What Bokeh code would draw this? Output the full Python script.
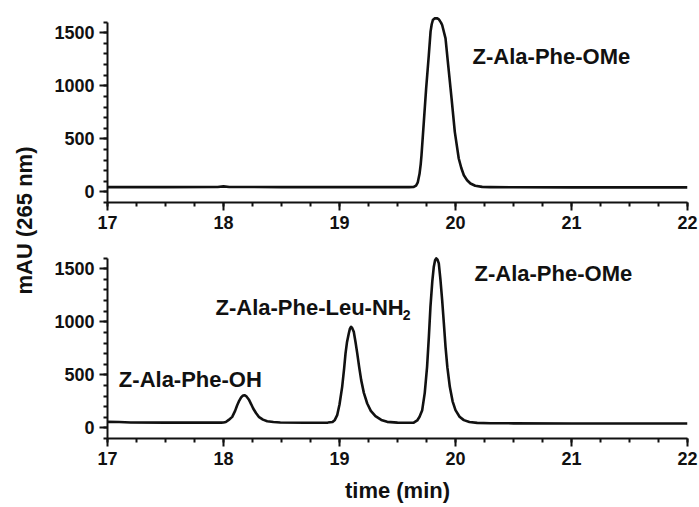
import math
from bokeh.plotting import figure
from bokeh.layouts import row, column
from bokeh.models import Range1d, FixedTicker
from bokeh.core.properties import value
from bokeh.embed import file_html
from bokeh.resources import INLINE

# ---- data ----
x_ticks = [17, 18, 19, 20, 21, 22]
y_ticks = [0, 500, 1000, 1500]

top_t = [17.0, 17.5, 17.95, 18.0, 18.05, 18.5, 19.0, 19.5, 19.6, 19.64, 19.66, 19.675,
         19.69, 19.70, 19.707, 19.727, 19.747, 19.77, 19.785, 19.795, 19.805, 19.82,
         19.84, 19.855, 19.865, 19.875, 19.885, 19.914, 19.937, 19.966, 19.994, 20.028,
         20.05, 20.072, 20.1, 20.129, 20.17, 20.23, 20.3, 20.5, 21.0, 21.5, 22.0]
top_v = [45, 45, 46, 52, 46, 45, 45, 45, 45, 47, 60, 90,
         170, 260, 346, 660, 975, 1290, 1510, 1580, 1620, 1635,
         1636, 1628, 1612, 1595, 1573, 1447, 1195, 881, 566, 315,
         225, 157, 110, 79, 58, 47, 45, 44, 43, 43, 43]

bot_t = [17.0, 17.1, 17.2, 17.5, 17.98, 18.0, 18.02, 18.045, 18.075, 18.1, 18.118, 18.135,
         18.152, 18.165, 18.181, 18.195, 18.218, 18.24, 18.256, 18.28, 18.304, 18.34,
         18.377, 18.43, 18.49, 18.7, 18.9, 18.94, 18.96, 18.98, 19.0, 19.023, 19.04,
         19.052, 19.065, 19.08, 19.09, 19.1, 19.11, 19.123, 19.138, 19.153, 19.17, 19.187,
         19.21, 19.239, 19.27, 19.31, 19.36, 19.411, 19.5, 19.6, 19.64, 19.67, 19.69,
         19.713, 19.735, 19.755, 19.77, 19.784, 19.8, 19.813, 19.824, 19.834, 19.845,
         19.856, 19.87, 19.885, 19.9, 19.914, 19.93, 19.951, 19.975, 20.0, 20.035, 20.072,
         20.12, 20.187, 20.3, 20.5, 21.0, 21.5, 22.0]
bot_v = [57, 55, 51, 50, 50, 51, 56, 75, 104, 160, 214, 255,
         287, 302, 308, 300, 268, 220, 183, 140, 104, 78,
         63, 55, 51, 49, 50, 56, 75, 120, 220, 387, 560,
         702, 810, 890, 935, 953, 940, 906, 810, 702, 570, 450,
         330, 230, 160, 110, 75, 57, 50, 48, 50, 70, 105,
         167, 330, 575, 850, 1141, 1380, 1519, 1580, 1598, 1585,
         1551, 1400, 1205, 980, 764, 570, 387, 250, 167, 105, 73,
         55, 47, 44, 43, 42, 42, 42]

top_labels = ["Z-Ala-Phe-OMe"]
top_label_t = [20.147]
top_label_v = [1274]

bot_labels = ["Z-Ala-Phe-OMe", "Z-Ala-Phe-Leu-NH", "Z-Ala-Phe-OH"]
bot_label_t = [20.164, 17.931, 17.098]
bot_label_v = [1459, 1132, 457]
sub_labels = ["2"]
sub_label_t = [19.545]
sub_label_v = [1060]

FONT = "Liberation Sans"
INK = "#111111"


def panel(t, v, height, b_top, b_bottom, xlabel=None):
    p = figure(width=654, height=height, x_range=Range1d(17, 22), y_range=Range1d(-100, 1700),
               output_backend="svg", toolbar_location=None,
               min_border_left=62, min_border_right=12,
               min_border_top=b_top, min_border_bottom=b_bottom)
    p.outline_line_color = None
    p.grid.visible = False
    p.background_fill_color = "white"
    p.border_fill_color = "white"
    p.line(t, v, line_width=2.6, line_color=INK, line_join="round")

    xa = p.xaxis[0]
    xa.ticker = FixedTicker(ticks=x_ticks, minor_ticks=[17 + 0.25 * i for i in range(21)])
    ya = p.yaxis[0]
    ya.ticker = FixedTicker(ticks=y_ticks, minor_ticks=list(range(-100, 1601, 100)))
    ya.bounds = (-100, 1600)
    for ax in (xa, ya):
        ax.axis_line_width = 2
        ax.axis_line_color = INK
        ax.major_tick_line_width = 2
        ax.major_tick_line_color = INK
        ax.minor_tick_line_width = 2
        ax.minor_tick_line_color = INK
        ax.major_tick_in = 0
        ax.major_tick_out = 8
        ax.minor_tick_in = 0
        ax.minor_tick_out = 4
        ax.major_label_text_font = FONT
        ax.major_label_text_font_style = "bold"
        ax.major_label_text_font_size = "18px"
        ax.major_label_text_color = INK
        ax.major_label_standoff = 5
    if xlabel:
        xa.axis_label = xlabel
        xa.axis_label_text_font = FONT
        xa.axis_label_text_font_style = "bold"
        xa.axis_label_text_font_size = "22px"
        xa.axis_label_text_color = INK
        xa.axis_label_standoff = 10
    return p


top = panel(top_t, top_v, 240, 11, 38)
top.text(x=top_label_t, y=top_label_v, text=top_labels, text_font=value(FONT),
         text_font_style="bold", text_font_size="22px", text_color=INK,
         text_align="left", text_baseline="alphabetic")

bottom = panel(bot_t, bot_v, 267, 7, 69, xlabel="time (min)")
bottom.text(x=bot_label_t, y=bot_label_v, text=bot_labels, text_font=value(FONT),
            text_font_style="bold", text_font_size="22px", text_color=INK,
            text_align="left", text_baseline="alphabetic")
bottom.text(x=sub_label_t, y=sub_label_v, text=sub_labels, text_font=value(FONT),
            text_font_style="bold", text_font_size="14px", text_color=INK,
            text_align="left", text_baseline="alphabetic")

lab = figure(width=45, height=507, x_range=Range1d(0, 45), y_range=Range1d(0, 507),
             x_axis_type=None, y_axis_type=None, min_border=0,
             output_backend="svg", toolbar_location=None)
lab.outline_line_color = None
lab.grid.visible = False
lab.text(x=[24], y=[287], text=["mAU (265 nm)"], angle=math.pi / 2,
         text_font=value(FONT), text_font_style="bold", text_font_size="22px",
         text_color=INK, text_align="center", text_baseline="middle")

layout = row(lab, column(top, bottom))
open("out.html", "w").write(file_html(layout, INLINE))
